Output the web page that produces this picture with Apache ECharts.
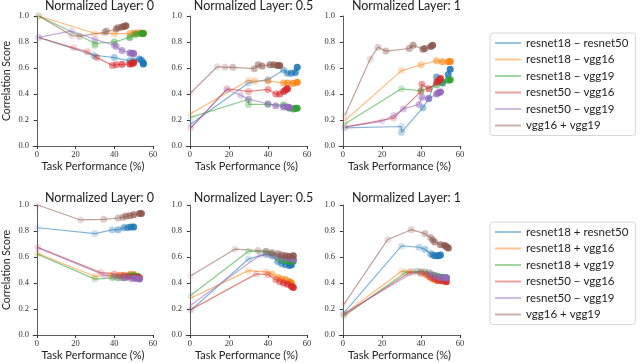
<!DOCTYPE html>
<html lang="en">
<head>
	<meta charset="UTF-8">
	<title>Correlation vs task performance</title>
	<script src="https://cdn.jsdelivr.net/npm/echarts@6/dist/echarts.min.js"></script>
</head>
<style>
	body{ margin:0; }
	#main{ width:640px; height:363px; }
</style>
<body>
	<div id="main"></div>
	<script>
	// pair names (legend order)
	var pairsTop = ['resnet18 \u2212 resnet50', 'resnet18 \u2212 vgg16', 'resnet18 \u2212 vgg19',
		'resnet50 \u2212 vgg16', 'resnet50 \u2212 vgg19', 'vgg16 + vgg19'];
	var pairsBottom = ['resnet18 + resnet50', 'resnet18 + vgg16', 'resnet18 + vgg19',
		'resnet50 \u2212 vgg16', 'resnet50 \u2212 vgg19', 'vgg16 + vgg19'];
	var layers = ['0', '0.5', '1'];
	var colors = ['#1f77b4', '#ff7f0e', '#2ca02c', '#d62728', '#9467bd', '#8c564b'];
	var xTicks = [0, 20, 40, 60];

	// [task performance %, correlation score], one list per pair, same order as the names
	var topLayer0 = [
		[[1,0.835],[29,0.7],[30,0.69],[40,0.68],[48,0.655],[50,0.655],[53,0.67],[54,0.66],[55,0.64],[55,0.63]],
		[[1,1.0],[30,0.865],[40,0.865],[48,0.865],[50,0.87],[52,0.87],[54,0.87],[55,0.868]],
		[[1,1.0],[30,0.79],[30,0.775],[40,0.8],[48,0.835],[51,0.86],[54,0.865],[55,0.865]],
		[[1,0.835],[19,0.755],[26,0.725],[31,0.68],[39,0.62],[41,0.625],[44,0.628],[48,0.63],[49,0.632],[50,0.64]],
		[[1,0.835],[18,0.885],[30,0.82],[40,0.775],[41,0.765],[44,0.735],[48,0.715],[49,0.713],[50,0.712]],
		[[1,1.0],[18,0.85],[22,0.845],[35,0.875],[36,0.885],[41,0.9],[42,0.91],[44,0.915],[45,0.92],[46,0.925]]
	];
	var topLayer05 = [
		[[0.5,0.17],[30,0.485],[40,0.51],[48,0.585],[50,0.56],[52,0.56],[54,0.565],[55,0.605]],
		[[0.5,0.25],[30,0.505],[33,0.5],[40,0.5],[48,0.485],[50,0.485],[53,0.483],[55,0.49]],
		[[0.5,0.22],[30,0.36],[30,0.32],[40,0.32],[48,0.315],[51,0.29],[53,0.285],[54,0.29],[55,0.29]],
		[[0.5,0.14],[19,0.44],[30,0.42],[40,0.435],[44,0.4],[46,0.4],[48,0.42],[49,0.43],[50,0.44]],
		[[0.5,0.14],[19,0.435],[26,0.39],[30,0.36],[40,0.325],[44,0.31],[48,0.3],[50,0.3],[51,0.297]],
		[[0.5,0.41],[14,0.61],[18,0.605],[22,0.605],[33,0.595],[35,0.625],[37,0.615],[41,0.625],[43,0.625],[45,0.62],[46,0.62]]
	];
	var topLayer1 = [
		[[1,0.14],[30,0.15],[30,0.105],[41,0.295],[44,0.365],[48,0.53],[51,0.485],[54,0.55],[55,0.59]],
		[[1,0.195],[30,0.58],[40,0.625],[48,0.655],[51,0.648],[54,0.648],[55,0.65]],
		[[1,0.17],[30,0.44],[40,0.425],[48,0.47],[51,0.49],[54,0.505],[55,0.51]],
		[[1,0.145],[26,0.215],[40,0.42],[40.5,0.475],[44,0.44],[48,0.49],[49,0.5],[50,0.52]],
		[[1,0.145],[20,0.19],[26,0.235],[31,0.285],[39,0.32],[40.5,0.375],[44,0.365],[48,0.4],[49,0.41],[50,0.415]],
		[[1,0.235],[14,0.67],[18,0.76],[22,0.73],[34,0.75],[36,0.775],[41,0.745],[42,0.75],[45,0.765],[46,0.775]]
	];
	var bottomLayer0 = [
		[[0.5,0.825],[30,0.78],[39,0.808],[42,0.81],[45,0.825],[47,0.827],[48.5,0.83],[50,0.83]],
		[[0.5,0.627],[30,0.45],[38,0.46],[42,0.455],[45,0.46],[48,0.465],[50,0.465],[52,0.45]],
		[[0.5,0.62],[30,0.43],[39,0.44],[42,0.44],[45,0.44],[48,0.455],[50,0.455],[52,0.45]],
		[[0.5,0.675],[33,0.48],[40,0.47],[43,0.46],[45,0.455],[47,0.45],[50,0.445],[52,0.44],[53,0.44]],
		[[0.5,0.67],[35,0.46],[40,0.45],[44,0.44],[46,0.44],[49,0.435],[51,0.435],[53,0.43]],
		[[0.5,1.0],[22.5,0.885],[34.5,0.89],[42,0.9],[44.5,0.905],[46,0.915],[48,0.918],[50,0.925],[53,0.935],[54,0.935]]
	];
	var bottomLayer05 = [
		[[0.5,0.19],[30,0.585],[39,0.62],[42,0.61],[45,0.565],[47,0.55],[49,0.54],[51,0.535],[52,0.54]],
		[[0.5,0.285],[30,0.495],[39,0.485],[42,0.47],[45,0.445],[47,0.43],[49,0.425],[51,0.41],[52,0.4]],
		[[0.5,0.305],[30,0.645],[39,0.64],[42,0.625],[45,0.6],[47,0.58],[49,0.575],[51,0.565],[53,0.57]],
		[[0.5,0.195],[34,0.47],[40,0.465],[44,0.425],[46,0.41],[48,0.4],[50,0.39],[52,0.375],[53,0.365]],
		[[0.5,0.23],[36,0.615],[40,0.62],[43,0.61],[46,0.6],[49,0.595],[51,0.59],[53,0.58]],
		[[0.5,0.455],[23,0.66],[35,0.65],[39,0.645],[42,0.635],[45,0.625],[47,0.615],[49,0.61],[51,0.605],[53,0.61]]
	];
	var bottomLayer1 = [
		[[0.5,0.17],[30,0.685],[39,0.675],[42,0.66],[45,0.625],[46,0.615],[47,0.61],[48,0.61],[49,0.61],[50,0.615]],
		[[0.5,0.16],[30,0.49],[35,0.49],[40,0.48],[42,0.47],[44,0.45],[46,0.43],[48,0.42],[50,0.43],[52,0.43]],
		[[0.5,0.145],[32,0.48],[38,0.49],[42,0.485],[45,0.47],[47,0.46],[49,0.45],[51,0.445],[53,0.44]],
		[[0.5,0.155],[34,0.48],[40,0.475],[43,0.465],[45,0.445],[47,0.43],[49,0.42],[51,0.415],[53,0.41]],
		[[0.5,0.165],[36,0.48],[40,0.49],[44,0.48],[46,0.46],[48,0.45],[50,0.44],[52,0.44],[53,0.44]],
		[[0.5,0.235],[23,0.735],[35,0.81],[42,0.78],[45,0.75],[46,0.73],[47,0.715],[50,0.695],[52,0.69],[53,0.68],[54,0.67]]
	];

	var panels = [
		{data: topLayer0, names: pairsTop, layer: 0, row: 0},
		{data: topLayer05, names: pairsTop, layer: 1, row: 0},
		{data: topLayer1, names: pairsTop, layer: 2, row: 0},
		{data: bottomLayer0, names: pairsBottom, layer: 0, row: 1},
		{data: bottomLayer05, names: pairsBottom, layer: 1, row: 1},
		{data: bottomLayer1, names: pairsBottom, layer: 2, row: 1}
	];

	var colLeft = [32, 186, 339];
	var rowTop = [16, 205];
	var gridW = 121, gridH = 130;
	var sans = 'Lato', serif = 'Liberation Serif';

	var grids = [], xAxes = [], yAxes = [], titles = [], series = [];
	panels.forEach(function (p, k) {
		var left = colLeft[p.layer], top = rowTop[p.row];
		grids.push({left: left, top: top, width: gridW, height: gridH});
		titles.push({
			text: 'Normalized Layer: ' + layers[p.layer],
			left: left + gridW / 2 + 2, top: p.row === 0 ? -6 : 186, textAlign: 'center',
			textStyle: {fontFamily: sans, fontSize: 12.5, fontWeight: 'normal', color: '#222'}
		});
		xAxes.push({
			type: 'value', gridIndex: k, min: -2, max: 60,
			name: 'Task Performance (%)', nameLocation: 'middle', nameGap: 15,
			nameTextStyle: {fontFamily: sans, fontSize: 11, color: '#222'},
			axisLine: {lineStyle: {color: '#333', width: 0.8}},
			axisTick: {show: true, length: 3, customValues: xTicks, lineStyle: {color: '#333'}},
			axisLabel: {customValues: xTicks, fontFamily: serif, fontSize: 8.5, color: '#333', margin: 4},
			splitLine: {show: false}
		});
		yAxes.push({
			type: 'value', gridIndex: k, min: 0, max: 1, interval: 0.2,
			name: p.layer === 0 ? 'Correlation Score' : '', nameLocation: 'middle', nameGap: 21,
			nameTextStyle: {fontFamily: sans, fontSize: 10.5, color: '#222'},
			axisLine: {show: true, lineStyle: {color: '#333', width: 0.8}},
			axisTick: {show: true, length: 3, lineStyle: {color: '#333'}},
			axisLabel: {fontFamily: serif, fontSize: 8.5, color: '#333', margin: 4,
				formatter: function (v) { return v.toFixed(1); }},
			splitLine: {show: false}
		});
		p.data.forEach(function (pts, i) {
			var n = pts.length;
			series.push({
				type: 'line', name: p.names[i], xAxisIndex: k, yAxisIndex: k,
				color: colors[i], symbol: 'circle', symbolSize: 7, showSymbol: true,
				lineStyle: {width: 1.2, opacity: 0.55},
				emphasis: {disabled: true},
				data: pts.map(function (d, j) {
					return {value: d, itemStyle: {opacity: 0.1 + 0.8 * j / (n - 1)}};
				})
			});
		});
	});

	function legendFor(names, top) {
		return {
			orient: 'vertical', left: 490, top: top, data: names,
			padding: [4, 7, 4, 5], itemGap: 4.5,
			borderColor: '#d6d6d6', borderWidth: 1, borderRadius: 3, backgroundColor: '#fff',
			icon: 'rect', itemWidth: 26, itemHeight: 2, itemStyle: {opacity: 0.45},
			textStyle: {fontFamily: sans, fontSize: 11.5, color: '#222'}
		};
	}

	var myChart = echarts.init(document.getElementById('main'));
	myChart.setOption({
		animation: false,
		title: titles,
		grid: grids,
		xAxis: xAxes,
		yAxis: yAxes,
		legend: [legendFor(pairsTop, 33), legendFor(pairsBottom, 222)],
		series: series
	});
	</script>
</body>
</html>
